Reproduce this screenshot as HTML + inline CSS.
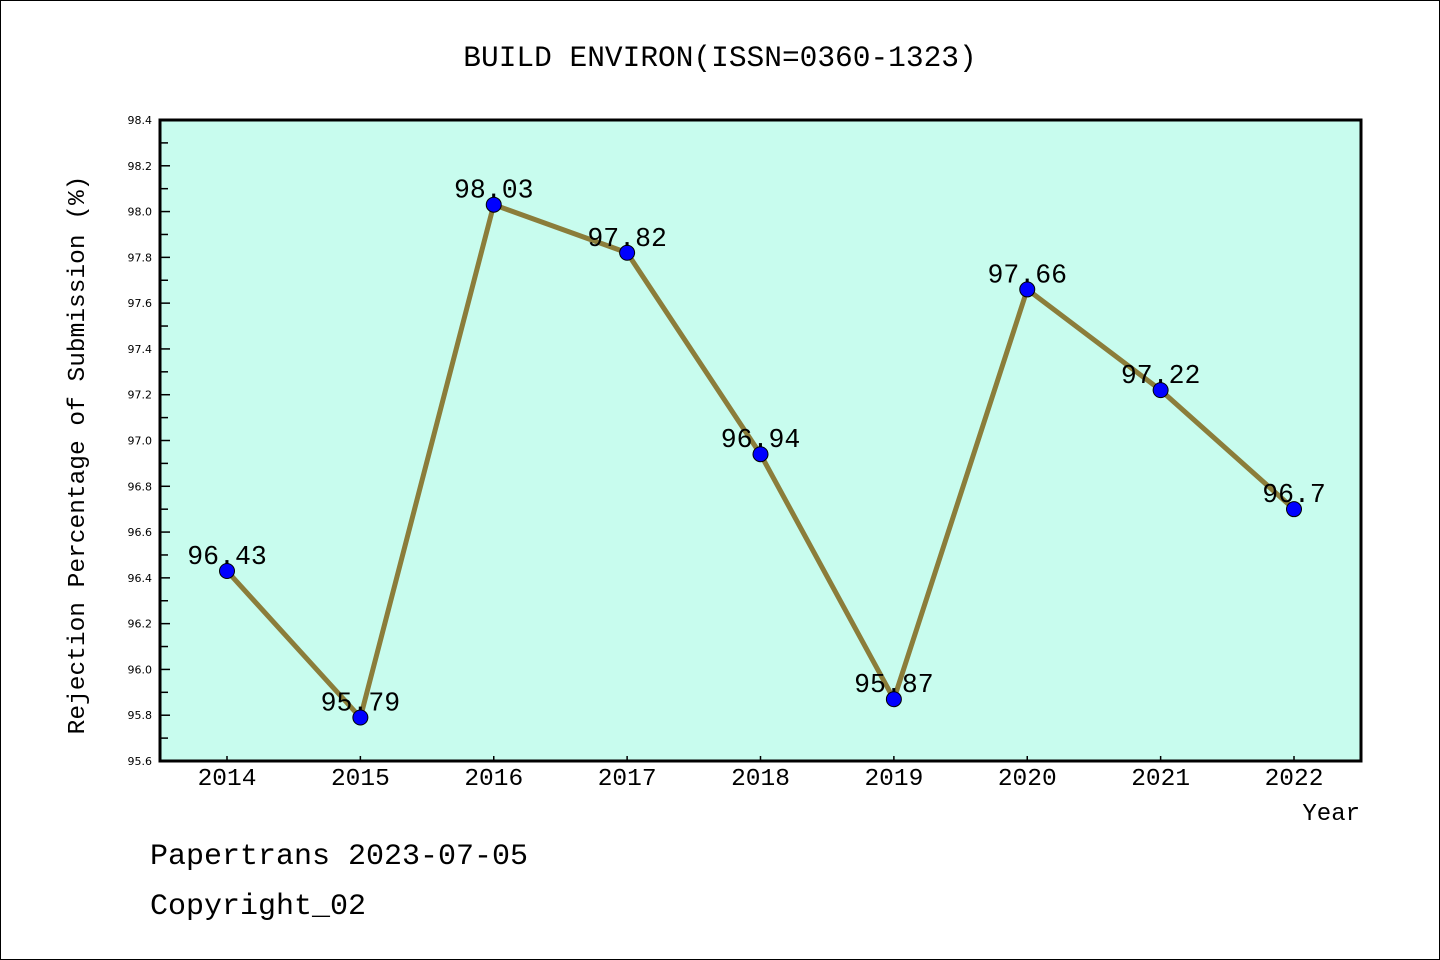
<!DOCTYPE html>
<html><head><meta charset="utf-8"><style>
html,body{margin:0;padding:0;background:#fff;}
svg{display:block;}
text{font-family:"Liberation Mono","DejaVu Sans Mono",monospace;fill:#000;}
text.small{font-family:"DejaVu Sans","Liberation Sans",sans-serif;}
</style></head><body>
<svg id="chart" width="1440" height="960" xmlns="http://www.w3.org/2000/svg">
<rect x="0.5" y="0.5" width="1439" height="959" fill="#fff" stroke="#000" stroke-width="1"/>
<text x="720" y="66" font-size="29.5" text-anchor="middle">BUILD ENVIRON(ISSN=0360-1323)</text>
<rect x="160" y="120" width="1201" height="641" fill="#c8fcee"/>
<g id="axes"></g>
<g id="series"></g>
<rect x="160" y="120" width="1201" height="641" fill="none" stroke="#000" stroke-width="3"/>
<text transform="translate(84,455) rotate(-90)" font-size="24.5" text-anchor="middle">Rejection Percentage of Submission (%)</text>
<text x="1360" y="820" font-size="24" text-anchor="end">Year</text>
<text x="150" y="864" font-size="30">Papertrans 2023-07-05</text>
<text x="150" y="914" font-size="30">Copyright_02</text>
</svg>
<script>
const years = ["2014","2015","2016","2017","2018","2019","2020","2021","2022"];
const values = [96.43,95.79,98.03,97.82,96.94,95.87,97.66,97.22,96.7];
const valueLabels = ["96.43","95.79","98.03","97.82","96.94","95.87","97.66","97.22","96.7"];
const yTicks = ["95.6","95.8","96.0","96.2","96.4","96.6","96.8","97.0","97.2","97.4","97.6","97.8","98.0","98.2","98.4"];
const yMin = 95.6, yMax = 98.4;
const NS = "http://www.w3.org/2000/svg";
function xScale(i){ return 227 + i*(1294-227)/(years.length-1); }
function yScale(v){ return 761 - (v - yMin)/(yMax - yMin)*641; }
function mk(tag, attrs, parent){ const e=document.createElementNS(NS,tag); for(const k in attrs) e.setAttribute(k,attrs[k]); parent.appendChild(e); return e; }
const axes=document.getElementById('axes'), series=document.getElementById('series');
yTicks.forEach((t,i)=>{
  const y=yScale(parseFloat(t));
  const tk=mk('line',{x1:160,x2:170,y1:y,y2:y,stroke:'#000','stroke-width':1.5},axes);
  
  
  const lb=mk('text',{x:152,y:y+4,'font-size':11,'text-anchor':'end','class':'small'},axes);
  lb.textContent=t;
  
  
  if(i<yTicks.length-1){
    const ym=yScale(parseFloat(t)+0.1);
    const mt=mk('line',{x1:160,x2:168,y1:ym,y2:ym,stroke:'#000','stroke-width':1.5},axes);
    
    
  }
});
years.forEach((yr,i)=>{
  const x=xScale(i);
  const tk=mk('line',{x1:x,x2:x,y1:756,y2:761,stroke:'#000','stroke-width':1.5},axes);
  
  
  const lb=mk('text',{x:x,y:785,'font-size':24.5,'text-anchor':'middle'},axes);
  lb.textContent=yr;
  
  
});
const pts=values.map((v,i)=>xScale(i)+','+yScale(v)).join(' ');
const line=mk('polyline',{points:pts,fill:'none',stroke:'#8b7d3a','stroke-width':5,'stroke-linejoin':'round'},series);


values.forEach((v,i)=>{
  const c=mk('circle',{cx:xScale(i),cy:yScale(v),r:7.5,fill:'#0000ff',stroke:'#000','stroke-width':1},series);
  
  
});
values.forEach((v,i)=>{
  const t=mk('text',{x:xScale(i),y:yScale(v)-7,'font-size':26.5,'text-anchor':'middle'},series);
  t.textContent=valueLabels[i];
  
  
});
</script>
</body></html>
